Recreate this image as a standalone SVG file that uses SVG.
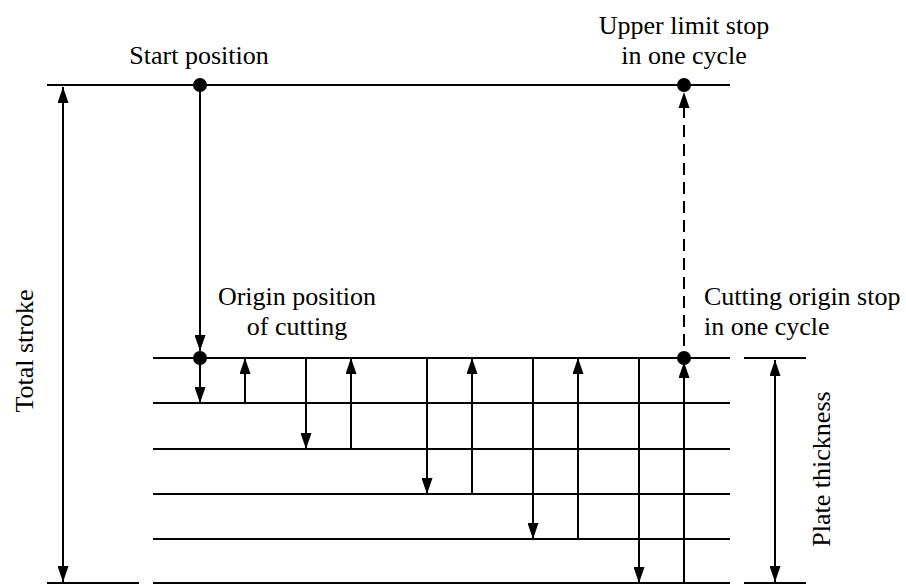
<svg xmlns="http://www.w3.org/2000/svg" width="906" height="585" viewBox="0 0 906 585">
  <defs>
    <marker id="ah" viewBox="0 0 16 11" refX="16" refY="5.5" markerWidth="16" markerHeight="11" markerUnits="userSpaceOnUse" orient="auto-start-reverse">
      <path d="M0,0 L16,5.5 L0,11 Z" fill="#000"/>
    </marker>
  </defs>
  <style>
    .ln { stroke: #000; stroke-width: 2; fill: none; }
    .ar { stroke: #000; stroke-width: 2; fill: none; marker-end: url(#ah); }
    .dbl { stroke: #000; stroke-width: 2; fill: none; marker-start: url(#ah); marker-end: url(#ah); }
    .dash { stroke-dasharray: 12 7; }
    .dot { fill: #000; }
    .lbl { font-family: 'Liberation Serif', 'Times New Roman', 'DejaVu Serif', serif; font-size: 26px; fill: #000; }
  </style>
  <rect width="906" height="585" fill="#fff"/>

  <!-- level lines -->
  <g id="levels">
    <line class="ln" x1="47" y1="85" x2="730" y2="85"/>
    <line class="ln" x1="153" y1="358" x2="730" y2="358"/>
    <line class="ln" x1="744" y1="358" x2="806" y2="358"/>
    <line class="ln" x1="153" y1="403" x2="730" y2="403"/>
    <line class="ln" x1="153" y1="449" x2="730" y2="449"/>
    <line class="ln" x1="153" y1="494" x2="730" y2="494"/>
    <line class="ln" x1="153" y1="539" x2="730" y2="539"/>
    <line class="ln" x1="47" y1="583" x2="139" y2="583"/>
    <line class="ln" x1="153" y1="583" x2="730" y2="583"/>
    <line class="ln" x1="744" y1="583" x2="806" y2="583"/>
  </g>

  <!-- strokes -->
  <g id="connectors">
    <line class="dbl" x1="63" y1="87" x2="63" y2="582"/>
    <line class="dbl" x1="775" y1="360" x2="775" y2="582"/>
    <line class="ar" x1="200" y1="85" x2="200" y2="351"/>
    <!-- return to upper limit (dashed) -->
    <line class="ln dash" x1="684" y1="106" x2="684" y2="358"/>
    <path d="M678.5,108 L684,92 L689.5,108 Z" fill="#000"/>
    <!-- down strokes -->
    <line class="ar" x1="200" y1="358" x2="200" y2="403"/>
    <line class="ar" x1="306" y1="358" x2="306" y2="449"/>
    <line class="ar" x1="427" y1="358" x2="427" y2="494"/>
    <line class="ar" x1="533" y1="358" x2="533" y2="539"/>
    <line class="ar" x1="639" y1="358" x2="639" y2="583"/>
    <!-- up strokes -->
    <line class="ar" x1="245" y1="403" x2="245" y2="358"/>
    <line class="ar" x1="351" y1="449" x2="351" y2="358"/>
    <line class="ar" x1="472" y1="494" x2="472" y2="358"/>
    <line class="ar" x1="578" y1="539" x2="578" y2="358"/>
    <line class="ar" x1="684" y1="583" x2="684" y2="362"/>
  </g>

  <!-- positions -->
  <g id="start-position">
    <circle class="dot" cx="200" cy="85" r="7"/>
    <text class="lbl" x="199" y="64" text-anchor="middle">Start position</text>
  </g>
  <g id="upper-limit-stop">
    <circle class="dot" cx="684" cy="85" r="7"/>
    <text class="lbl" x="684" y="34" text-anchor="middle">Upper limit stop</text>
    <text class="lbl" x="684" y="64" text-anchor="middle">in one cycle</text>
  </g>
  <g id="origin-of-cutting">
    <circle class="dot" cx="200" cy="358" r="7"/>
    <text class="lbl" x="297" y="305" text-anchor="middle">Origin position</text>
    <text class="lbl" x="297" y="335" text-anchor="middle">of cutting</text>
  </g>
  <g id="cutting-origin-stop">
    <circle class="dot" cx="684" cy="358" r="7"/>
    <text class="lbl" x="704" y="305">Cutting origin stop</text>
    <text class="lbl" x="704" y="335">in one cycle</text>
  </g>
  <g id="total-stroke">
    <text class="lbl" transform="translate(33,351) rotate(-90)" text-anchor="middle">Total stroke</text>
  </g>
  <g id="plate-thickness">
    <text class="lbl" transform="translate(830,469) rotate(-90)" text-anchor="middle">Plate thickness</text>
  </g>
</svg>
